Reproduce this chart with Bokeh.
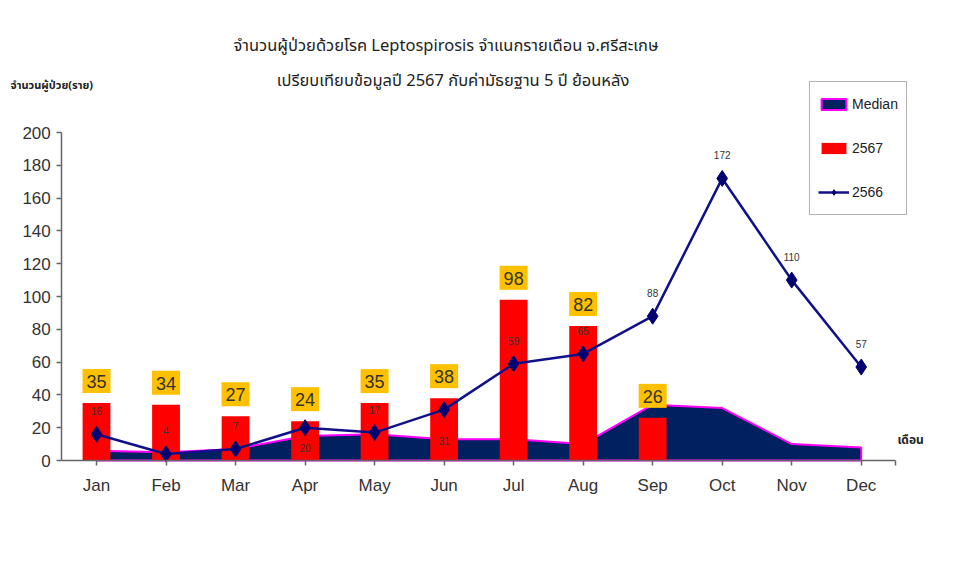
from bokeh.plotting import figure
from bokeh.models import (LinearAxis, FixedTicker, Range1d, Label, Legend,
                          LegendItem, ColumnDataSource)
from bokeh.embed import file_html
from bokeh.resources import INLINE

# ---------------- data ----------------
months = ["Jan", "Feb", "Mar", "Apr", "May", "Jun",
          "Jul", "Aug", "Sep", "Oct", "Nov", "Dec"]
cases_2567 = [35, 34, 27, 24, 35, 38, 98, 82, 26]
cases_2566 = [16, 4, 7, 20, 17, 31, 59, 65, 88, 172, 110, 57]
median_5y = [6, 5, 7, 15, 16, 13, 13, 10, 34, 32, 10, 8]
y_ticks = [0, 20, 40, 60, 80, 100, 120, 140, 160, 180, 200]
title_line1 = "จำนวนผู้ป่วยด้วยโรค  Leptospirosis จำแนกรายเดือน   จ.ศรีสะเกษ"
title_line2 = "เปรียบเทียบข้อมูลปี  2567  กับค่ามัธยฐาน 5 ปี ย้อนหลัง"
y_title = "จำนวนผู้ป่วย(ราย)"
x_title = "เดือน"
series_names = ["Median", "2567", "2566"]

# label placement for the 2566 line (screen px, + = above)
line_label_offset = {"Apr": -20, "Jun": -31}

FONT = "Liberation Sans"
THAI = "Noto Sans Thai"

x_idx = list(range(1, len(months) + 1))

p = figure(width=937, height=552, output_backend="svg", toolbar_location=None,
           x_range=Range1d(-0.381, 13.097), y_range=Range1d(-56.1, 280.5),
           x_axis_location=None, y_axis_location=None, min_border=0)
p.outline_line_color = None
p.xgrid.visible = False
p.ygrid.visible = False
p.background_fill_color = "white"
p.border_fill_color = "white"

# median area (patch incl. baseline)
patch_x = x_idx + x_idx[::-1]
patch_y = median_5y + [0] * len(x_idx)
r_med = p.patch(patch_x, patch_y, fill_color="#002060", line_color="#FF00FF",
                line_width=2)

# bars 2567
bar_src = ColumnDataSource(dict(x=x_idx[:len(cases_2567)], top=cases_2567))
r_bar = p.vbar(x="x", top="top", width=0.4, source=bar_src,
               fill_color="#FF0000", line_color=None)

# line 2566
line_src = ColumnDataSource(dict(x=x_idx, y=cases_2566))
r_line = p.line("x", "y", source=line_src, line_color="#10108A", line_width=2.5)
r_pts = p.scatter("x", "y", source=line_src, marker="diamond",
                  size=16, fill_color="#000070", line_color="#000070")

# axes
yaxis = LinearAxis(fixed_location=0.5, bounds=(0, 200),
                   ticker=FixedTicker(ticks=y_ticks))
yaxis.major_tick_out = 5
yaxis.major_tick_in = 0
yaxis.minor_tick_out = 0
yaxis.minor_tick_in = 0
yaxis.major_label_standoff = 6
yaxis.axis_line_color = "#666666"
yaxis.axis_line_width = 1.5
yaxis.major_tick_line_color = "#666666"
yaxis.major_tick_line_width = 1.5
yaxis.major_label_text_font = FONT
yaxis.major_label_text_font_size = "17px"
yaxis.major_label_text_color = "#333333"
p.add_layout(yaxis, "left")

xaxis = LinearAxis(fixed_location=0, bounds=(0.5, 12.5),
                   ticker=FixedTicker(ticks=x_idx + [12.5]))
xaxis.major_label_overrides = {**{i: m for i, m in zip(x_idx, months)}, 12.5: ""}
xaxis.major_tick_out = 5
xaxis.major_tick_in = 0
xaxis.minor_tick_out = 0
xaxis.minor_tick_in = 0
xaxis.major_label_standoff = 10
xaxis.axis_line_color = "#666666"
xaxis.axis_line_width = 1.5
xaxis.major_tick_line_color = "#666666"
xaxis.major_tick_line_width = 1.5
xaxis.major_label_text_font = FONT
xaxis.major_label_text_font_size = "17px"
xaxis.major_label_text_color = "#333333"
p.add_layout(xaxis, "below")

# bar value boxes
for xi, v in zip(x_idx, cases_2567):
    p.add_layout(Label(x=xi, y=v, text=str(v), y_offset=10, text_align="center",
                       text_baseline="bottom", text_font=FONT,
                       text_font_size="18px", text_color="#333333",
                       background_fill_color="#FFC000",
                       padding=dict(left=4, right=4, top=6, bottom=5)))

# 2566 value labels
for xi, m, v in zip(x_idx, months, cases_2566):
    off = line_label_offset.get(m, 23)
    p.add_layout(Label(x=xi, y=v, text=str(v), y_offset=off, text_align="center",
                       text_baseline="middle", text_font=FONT,
                       text_font_size="10px", text_color="#333333"))

# titles
p.add_layout(Label(x=6.12, y=253, text=title_line1, text_align="center",
                   text_baseline="middle", text_font=THAI, text_font_size="16.5px",
                   text_color="#222222"))
p.add_layout(Label(x=6.19, y=231.7, text=title_line2, text_align="center",
                   text_baseline="middle", text_font=THAI, text_font_size="16.5px",
                   text_color="#222222"))
p.add_layout(Label(x=-0.237, y=228.7, text=y_title, text_align="left",
                   text_baseline="middle", text_font=THAI, text_font_size="11px",
                   text_font_style="bold", text_color="#222222"))
p.add_layout(Label(x=12.52, y=12.2, text=x_title, text_align="left",
                   text_baseline="middle", text_font=THAI, text_font_size="12px",
                   text_font_style="bold", text_color="#222222"))

legend = Legend(items=[LegendItem(label=series_names[0], renderers=[r_med]),
                       LegendItem(label=series_names[1], renderers=[r_bar]),
                       LegendItem(label=series_names[2], renderers=[r_line, r_pts])],
                location=(809, 337))
legend.border_line_color = "#666666"
legend.border_line_width = 1.5
legend.background_fill_color = "white"
legend.padding = 8
legend.margin = 0
legend.spacing = 16
legend.glyph_width = 31
legend.glyph_height = 14
legend.label_height = 28
legend.label_standoff = 3
legend.label_text_font = FONT
legend.label_text_font_size = "14px"
legend.label_text_color = "#222222"
p.add_layout(legend, "center")

open("out.html", "w").write(file_html(p, INLINE))
